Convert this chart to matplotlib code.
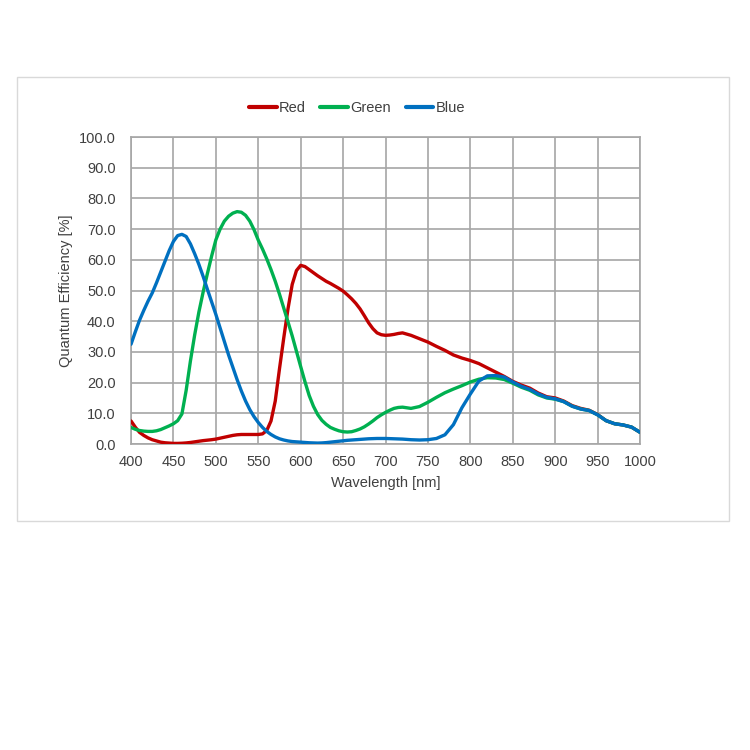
import numpy as np
import matplotlib
matplotlib.use("Agg")
import matplotlib.pyplot as plt
from matplotlib.patches import Rectangle

plt.rcParams['font.family'] = ['Liberation Sans', 'DejaVu Sans']

# Wavelength grid [nm]: 5 nm steps up to 720, then 10 nm
wavelength = list(range(400, 721, 5)) + list(range(730, 1001, 10))

# Quantum efficiency [%]
red = [7.5, 5.5, 3.8, 2.8, 2.0, 1.4, 1.0, 0.6, 0.4, 0.3,
       0.2, 0.2, 0.25, 0.35, 0.5, 0.7, 0.9, 1.1, 1.25, 1.4,
       1.6, 1.9, 2.2, 2.5, 2.8, 3.0, 3.1, 3.1, 3.1, 3.1,
       3.1, 3.3, 4.4, 7.5, 14.0, 24.5, 34.5, 44.0, 52.0, 56.5,
       58.2, 57.8, 56.8, 55.8, 54.8, 53.9, 53.0, 52.3, 51.5, 50.7,
       49.8, 48.6, 47.3, 45.8, 44.0, 41.8, 39.5, 37.6, 36.2, 35.6,
       35.4, 35.5, 35.7, 36.0, 36.2,
       35.4, 34.3, 33.2, 31.8, 30.5, 29.0, 28.0, 27.2, 26.2, 24.8,
       23.4, 22.0, 20.4, 19.2, 18.2, 16.6, 15.4, 15.0, 14.0, 12.5,
       11.6, 11.0, 9.6, 7.6, 6.6, 6.2, 5.5, 3.8]
green = [5.4, 4.8, 4.4, 4.2, 4.1, 4.1, 4.3, 4.7, 5.3, 5.9,
         6.6, 7.6, 9.8, 17.5, 27.0, 35.5, 43.0, 49.5, 55.5, 61.2,
         66.5, 70.0, 72.6, 74.2, 75.2, 75.7, 75.5, 74.5, 72.6, 69.8,
         66.4, 63.5, 60.3, 56.8, 53.0, 48.8, 44.3, 39.8, 35.2, 30.2,
         25.2, 20.3, 15.8, 12.3, 9.6, 7.7, 6.4, 5.4, 4.8, 4.3,
         4.0, 3.9, 4.0, 4.4, 4.9, 5.6, 6.5, 7.5, 8.6, 9.5,
         10.3, 11.0, 11.6, 11.9, 12.0,
         11.6, 12.2, 13.6, 15.2, 16.7, 17.9, 19.0, 20.2, 21.1, 21.6,
         21.5, 21.0, 19.8, 18.5, 17.5, 16.0, 15.0, 14.6, 13.8, 12.3,
         11.4, 10.9, 9.5, 7.6, 6.6, 6.2, 5.5, 3.8]
blue = [32.5, 36.5, 40.3, 43.5, 46.5, 49.2, 52.5, 56.0, 59.5, 63.0,
        66.0, 67.9, 68.3, 67.6, 65.2, 62.0, 58.5, 54.6, 50.4, 46.3,
        42.2, 37.8, 33.4, 29.0, 25.0, 21.0, 17.3, 14.0, 11.2, 8.9,
        7.0, 5.4, 4.1, 3.1, 2.3, 1.7, 1.3, 1.0, 0.8, 0.7,
        0.6, 0.5, 0.4, 0.35, 0.3, 0.35, 0.45, 0.6, 0.75, 0.9,
        1.05, 1.2, 1.3, 1.4, 1.5, 1.6, 1.7, 1.75, 1.8, 1.8,
        1.8, 1.75, 1.7, 1.65, 1.6,
        1.4, 1.3, 1.4, 1.8, 3.0, 6.3, 11.8, 16.3, 20.5, 22.2,
        22.3, 21.8, 20.2, 18.8, 17.8, 16.3, 15.2, 14.7, 13.8, 12.3,
        11.4, 10.9, 9.5, 7.6, 6.6, 6.2, 5.5, 3.8]

series_names = ["Red", "Green", "Blue"]
series_colors = ["#C00000", "#00B050", "#0070C0"]

x_ticks = list(range(400, 1001, 50))
y_ticks = list(range(0, 101, 10))

text_color = "#404040"
grid_color = "#A6A6A6"

fig = plt.figure(figsize=(7.5, 7.5), dpi=100)
fig.patch.set_facecolor("white")

# light frame around the chart area
frame = Rectangle((0.0227, 0.3053), 0.9493, 0.592, transform=fig.transFigure,
                  facecolor="none", edgecolor="#D9D9D9", linewidth=1.0, zorder=-5)
fig.patches.append(frame)

ax = fig.add_axes([0.1747, 0.408, 0.6787, 0.4093])
ax.set_facecolor("white")
ax.set_zorder(2)

for vals, name, col in zip([red, green, blue], series_names, series_colors):
    ax.plot(wavelength, vals, color=col, linewidth=2.4, label=name,
            solid_capstyle="round", solid_joinstyle="round", zorder=3)

ax.set_xlim(400, 1000)
ax.set_ylim(0, 100)
ax.set_xticks(x_ticks)
ax.set_yticks(y_ticks)
ax.set_yticklabels([f"{v:.1f}" for v in y_ticks])
ax.grid(True, color=grid_color, linewidth=1.2, zorder=1)
ax.set_axisbelow(True)
ax.tick_params(length=0, labelsize=10.5, colors=text_color)
ax.tick_params(axis="y", pad=11)
ax.tick_params(axis="x", pad=8)
for sp in ax.spines.values():
    sp.set_color(grid_color)
    sp.set_linewidth(1.2)

ax.set_xlabel("Wavelength [nm]", fontsize=10.5, color=text_color, labelpad=5)
ax.set_ylabel("Quantum Efficiency [%]", fontsize=10.5, color=text_color, labelpad=4)

leg = fig.legend(loc="center", bbox_to_anchor=(0.476, 0.856), ncol=3, frameon=False,
                 fontsize=10.5, handlelength=1.9, columnspacing=1.0, handletextpad=0.15,
                 labelcolor=text_color)
for ln in leg.get_lines():
    ln.set_linewidth(3.0)

fig.savefig("out.png", dpi=100, facecolor="white")
